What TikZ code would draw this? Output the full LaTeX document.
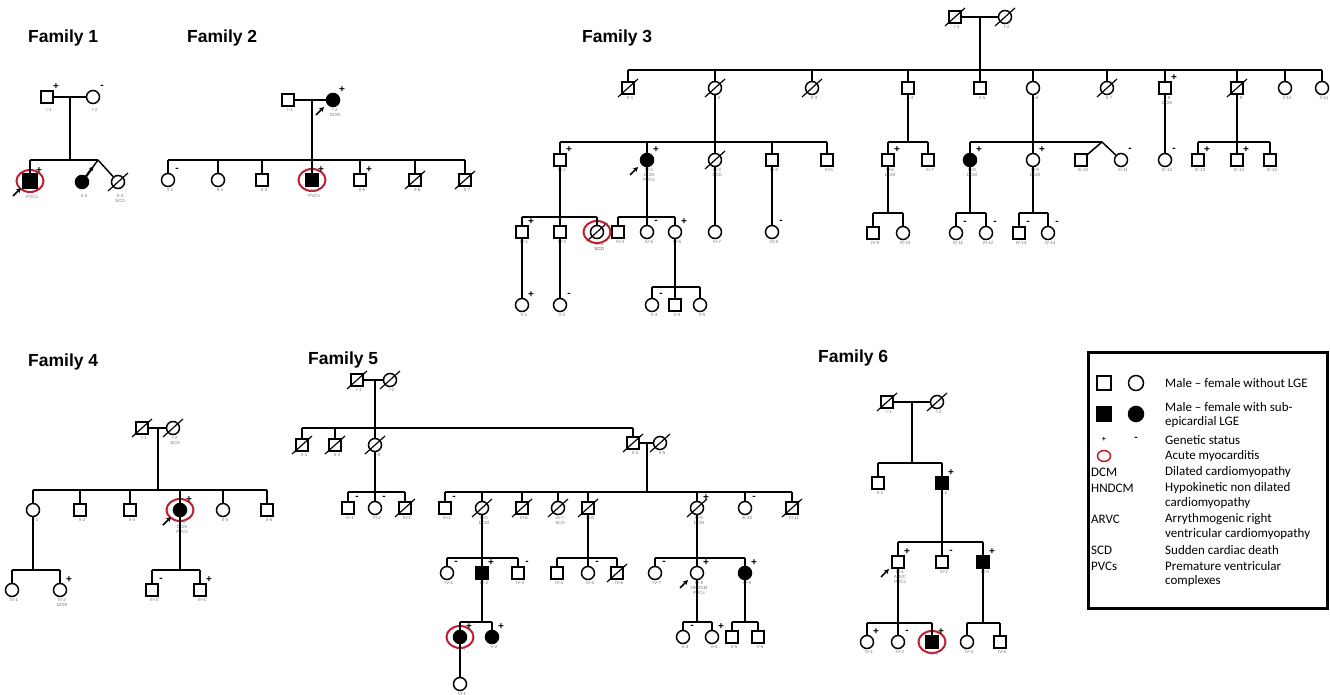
\documentclass[tikz,border=0pt]{standalone}
\usepackage{fontspec}
\setmainfont{Liberation Sans}
\newfontfamily\legendfont{Carlito}
\usetikzlibrary{shapes.geometric,arrows.meta,calc}

\definecolor{myored}{RGB}{190,30,45}
\definecolor{tagtext}{RGB}{120,120,120}

\tikzset{
  ln/.style={line width=1.5pt},
  ped/.style={draw, line width=1.5pt, inner sep=0pt, fill=white},
  msym/.style={ped, rectangle, minimum size=12pt},
  fsym/.style={ped, circle, minimum size=13pt},
  aff/.style={fill=black},
  gs/.style={font=\fontsize{10}{10}\selectfont\bfseries, inner sep=0pt},
  tag/.style={font=\fontsize{4.5}{5}\selectfont, text=tagtext, inner sep=0pt, anchor=north, align=center},
  famtitle/.style={font=\fontsize{17.5}{20}\selectfont\bfseries, inner sep=0pt, anchor=west},
  myo/.style={draw=myored, line width=2pt, ellipse, minimum width=27pt, minimum height=22pt, inner sep=0pt},
  legtext/.style={font=\legendfont\fontsize{13}{15}\selectfont, inner sep=0pt, anchor=west},
}

% genetic status marks, deceased slash, proband arrow, myocarditis ring, id tag
\newcommand\pedplus[1]{\node[gs] (#1-gs) at ([shift={(9,-10)}]#1.center) {+};}
\newcommand\pedminus[1]{\node[gs] (#1-gs) at ([shift={(9,-10)}]#1.center) {-};}
\newcommand\peddead[1]{\draw[line width=1.2pt] ([shift={(-10,9)}]#1.center) -- ([shift={(10,-9)}]#1.center);}
\newcommand\pedarrow[1]{\draw[line width=1.6pt,-{Stealth[length=5pt,width=5pt]}] ([shift={(-17,15)}]#1.center) -- ([shift={(-9,7)}]#1.center);}
\newcommand\pedmyo[1]{\node[myo] (#1-ring) at (#1.center) {};}
\newcommand\pedtag[3][8]{\node[tag] (#2-tag) at ([shift={(2,#1)}]#2.center) {#3};}
% descent from #1 to a sibship line at height #2 spanning #3..#4, with drops to #5
\newcommand\sibship[5]{%
  \draw[ln] (#1) -- (#1 |- 0,#2);
  \draw[ln] (#3 |- 0,#2) -- (#4 |- 0,#2);
  \foreach \kid in {#5} {\draw[ln] (\kid |- 0,#2) -- (\kid);}
}

\begin{document}
\begin{tikzpicture}[x=1pt,y=-1pt]
\useasboundingbox (0,0) rectangle (1330,695);

% ---------------- Family 1 ----------------
\node[famtitle] (t1) at (28,38) {Family 1};
\node[msym] (f1i1) at (47,97) {};
\node[fsym] (f1i2) at (93,97) {};
\pedplus{f1i1} \pedminus{f1i2}
\pedtag[11]{f1i1}{I-1} \pedtag[11]{f1i2}{I-2}
\node[msym,aff,minimum size=14pt] (f1c1) at (30,181) {};
\node[fsym,aff] (f1c2) at (82,182) {};
\node[fsym] (f1c3) at (118,182) {};
\peddead{f1c3}
\pedmyo{f1c1} \pedplus{f1c1} \pedarrow{f1c1}
\pedtag[14]{f1c1}{PVCs}
\pedtag[12]{f1c2}{II-2}
\pedtag[12]{f1c3}{II-3\\SCD}
\draw[ln] (f1i1) -- (f1i2);
\coordinate (f1m) at (70,97);
\coordinate (f1tw) at (98,160);
\sibship{f1m}{160}{f1c1}{f1tw}{f1c1}
\draw[ln] (f1tw) -- (f1c2);
\draw[ln] (f1tw) -- (f1c3);
\draw[line width=2.2pt,-{Stealth[length=4pt,width=5pt]}] ($(f1tw)!0.75!(f1c2)$) -- ($(f1tw)!0.3!(f1c2)$);

% ---------------- Family 2 ----------------
\node[famtitle] (t2) at (187,38) {Family 2};
\node[msym] (f2i1) at (288,100) {};
\node[fsym,aff] (f2i2) at (333,100) {};
\pedplus{f2i2} \pedarrow{f2i2}
\pedtag{f2i1}{I-1} \pedtag{f2i2}{I-2\\DCM}
\node[fsym] (f2c1) at (168,180) {};
\node[fsym] (f2c2) at (218,180) {};
\node[msym] (f2c3) at (262,180) {};
\node[msym,aff] (f2c4) at (312,180) {};
\node[msym] (f2c5) at (360,180) {};
\node[msym] (f2c6) at (415,180) {};
\node[msym] (f2c7) at (465,180) {};
\peddead{f2c6} \peddead{f2c7}
\pedmyo{f2c4}
\pedminus{f2c1} \pedplus{f2c4} \pedplus{f2c5}
\pedtag{f2c1}{II-1} \pedtag{f2c2}{II-2} \pedtag{f2c3}{II-3}
\pedtag[9]{f2c4}{II-4\\PVCs} \pedtag{f2c5}{II-5} \pedtag{f2c6}{II-6} \pedtag{f2c7}{II-7}
\draw[ln] (f2i1) -- (f2i2);
\coordinate (f2m) at (312,100);
\sibship{f2m}{160}{f2c1}{f2c7}{f2c1,f2c2,f2c3,f2c4,f2c5,f2c6,f2c7}

% ---------------- Family 3 ----------------
\node[famtitle] (t3) at (582,38) {Family 3};
\node[msym] (f3i1) at (955,17) {};
\node[fsym] (f3i2) at (1005,17) {};
\peddead{f3i1} \peddead{f3i2}
\pedtag{f3i1}{I-1} \pedtag{f3i2}{I-2}
% generation II
\node[msym] (f3a1) at (628,88) {};
\node[fsym] (f3a2) at (715,88) {};
\node[fsym] (f3a3) at (812,88) {};
\node[msym] (f3a4) at (908,88) {};
\node[msym] (f3a5) at (980,88) {};
\node[fsym] (f3a6) at (1033,88) {};
\node[fsym] (f3a7) at (1107,88) {};
\node[msym] (f3a8) at (1165,88) {};
\node[msym] (f3a9) at (1237,88) {};
\node[fsym] (f3a10) at (1285,88) {};
\node[fsym] (f3a11) at (1322,88) {};
\peddead{f3a1} \peddead{f3a2} \peddead{f3a3} \peddead{f3a7} \peddead{f3a9}
\pedplus{f3a8}
\pedtag{f3a1}{II-1} \pedtag{f3a2}{II-2} \pedtag{f3a3}{II-3} \pedtag{f3a4}{II-4}
\pedtag{f3a5}{II-5} \pedtag{f3a6}{II-6} \pedtag{f3a7}{II-7} \pedtag{f3a8}{II-8\\DCM}
\pedtag{f3a9}{II-9} \pedtag{f3a10}{II-10} \pedtag{f3a11}{II-11}
% generation III
\node[msym] (f3b1) at (560,160) {};
\node[fsym,aff] (f3b2) at (647,160) {};
\node[fsym] (f3b3) at (715,160) {};
\node[msym] (f3b4) at (772,160) {};
\node[msym] (f3b5) at (827,160) {};
\node[msym] (f3b6) at (888,160) {};
\node[msym] (f3b7) at (928,160) {};
\node[fsym,aff] (f3b8) at (970,160) {};
\node[fsym] (f3b9) at (1033,160) {};
\node[msym] (f3b10) at (1081,160) {};
\node[fsym] (f3b11) at (1121,160) {};
\node[fsym] (f3b12) at (1165,160) {};
\node[msym] (f3b13) at (1198,160) {};
\node[msym] (f3b14) at (1237,160) {};
\node[msym] (f3b15) at (1270,160) {};
\peddead{f3b3}
\pedplus{f3b1} \pedplus{f3b2} \pedarrow{f3b2} \pedplus{f3b6} \pedplus{f3b8} \pedplus{f3b9}
\pedminus{f3b11} \pedminus{f3b12} \pedplus{f3b13} \pedplus{f3b14}
\pedtag{f3b1}{III-1} \pedtag{f3b2}{III-2\\DCM\\PVCs} \pedtag{f3b3}{III-3\\SCD}
\pedtag{f3b4}{III-4} \pedtag{f3b5}{III-5} \pedtag{f3b6}{III-6\\DCM} \pedtag{f3b7}{III-7}
\pedtag{f3b8}{III-8\\DCM} \pedtag{f3b9}{III-9\\DCM} \pedtag{f3b10}{III-10} \pedtag{f3b11}{III-11}
\pedtag{f3b12}{III-12} \pedtag{f3b13}{III-13} \pedtag{f3b14}{III-14} \pedtag{f3b15}{III-15}
% generation IV
\node[msym] (f3c1) at (522,232) {};
\node[msym] (f3c2) at (560,232) {};
\node[fsym] (f3c3) at (597,232) {};
\node[msym] (f3c4) at (618,232) {};
\node[fsym] (f3c5) at (647,232) {};
\node[fsym] (f3c6) at (675,232) {};
\node[fsym] (f3c7) at (715,232) {};
\node[fsym] (f3c8) at (772,232) {};
\node[msym] (f3c9) at (873,233) {};
\node[fsym] (f3c10) at (903,233) {};
\node[fsym] (f3c11) at (956,233) {};
\node[fsym] (f3c12) at (986,233) {};
\node[msym] (f3c13) at (1019,233) {};
\node[fsym] (f3c14) at (1048,233) {};
\peddead{f3c3} \pedmyo{f3c3}
\pedplus{f3c1} \pedminus{f3c5} \pedplus{f3c6} \pedminus{f3c8}
\pedminus{f3c11} \pedminus{f3c12} \pedminus{f3c13} \pedminus{f3c14}
\pedtag{f3c1}{IV-1} \pedtag{f3c2}{IV-2} \node[tag,text=myored] (f3c3-tag) at ([shift={(2,10)}]f3c3.center) {IV-3\\SCD};
\pedtag{f3c4}{IV-4} \pedtag{f3c5}{IV-5} \pedtag{f3c6}{IV-6} \pedtag{f3c7}{IV-7}
\pedtag{f3c8}{IV-8} \pedtag{f3c9}{IV-9} \pedtag{f3c10}{IV-10} \pedtag{f3c11}{IV-11}
\pedtag{f3c12}{IV-12} \pedtag{f3c13}{IV-13} \pedtag{f3c14}{IV-14}
% generation V
\node[fsym] (f3d1) at (522,305) {};
\node[fsym] (f3d2) at (560,305) {};
\node[fsym] (f3d3) at (652,305) {};
\node[msym] (f3d4) at (675,305) {};
\node[fsym] (f3d5) at (700,305) {};
\pedplus{f3d1} \pedminus{f3d2} \pedminus{f3d3}
\pedtag{f3d1}{V-1} \pedtag{f3d2}{V-2} \pedtag{f3d3}{V-3} \pedtag{f3d4}{V-4} \pedtag{f3d5}{V-5}
% lines
\draw[ln] (f3i1) -- (f3i2);
\coordinate (f3m) at (980,17);
\sibship{f3m}{70}{f3a1}{f3a11}{f3a1,f3a2,f3a3,f3a4,f3a5,f3a6,f3a7,f3a8,f3a9,f3a10,f3a11}
\sibship{f3a2}{142}{f3b1}{f3b5}{f3b1,f3b2,f3b3,f3b4,f3b5}
\sibship{f3a4}{142}{f3b6}{f3b7}{f3b6,f3b7}
\coordinate (f3tw) at (1102,142);
\sibship{f3a6}{142}{f3b8}{f3tw}{f3b8,f3b9}
\draw[ln] (f3tw) -- (f3b10);
\draw[ln] (f3tw) -- (f3b11);
\draw[ln] (f3a8) -- (f3b12);
\sibship{f3a9}{142}{f3b13}{f3b15}{f3b13,f3b14,f3b15}
\sibship{f3b1}{217}{f3c1}{f3c3}{f3c1,f3c2,f3c3}
\sibship{f3b2}{217}{f3c4}{f3c6}{f3c4,f3c5,f3c6}
\draw[ln] (f3b3) -- (f3c7);
\draw[ln] (f3b4) -- (f3c8);
\sibship{f3b6}{213}{f3c9}{f3c10}{f3c9,f3c10}
\sibship{f3b8}{213}{f3c11}{f3c12}{f3c11,f3c12}
\sibship{f3b9}{213}{f3c13}{f3c14}{f3c13,f3c14}
\draw[ln] (f3c1) -- (f3d1);
\draw[ln] (f3c2) -- (f3d2);
\sibship{f3c6}{287}{f3d3}{f3d5}{f3d3,f3d4,f3d5}

% ---------------- Family 4 ----------------
\node[famtitle] (t4) at (28,362) {Family 4};
\node[msym] (f4i1) at (142,428) {};
\node[fsym] (f4i2) at (173,428) {};
\peddead{f4i1} \peddead{f4i2}
\pedtag{f4i1}{I-1} \pedtag{f4i2}{I-2\\SCD}
\node[fsym] (f4a1) at (33,510) {};
\node[msym] (f4a2) at (80,510) {};
\node[msym] (f4a3) at (130,510) {};
\node[fsym,aff] (f4a4) at (180,510) {};
\node[fsym] (f4a5) at (223,510) {};
\node[msym] (f4a6) at (267,510) {};
\pedmyo{f4a4} \pedplus{f4a4} \pedarrow{f4a4}
\pedtag{f4a1}{II-1} \pedtag{f4a2}{II-2} \pedtag{f4a3}{II-3}
\pedtag[10]{f4a4}{II-4\\DCM\\PVCs} \pedtag{f4a5}{II-5} \pedtag{f4a6}{II-6}
\node[fsym] (f4b1) at (12,590) {};
\node[fsym] (f4b2) at (60,590) {};
\node[msym] (f4b3) at (152,590) {};
\node[msym] (f4b4) at (200,590) {};
\pedplus{f4b2} \pedminus{f4b3} \pedplus{f4b4}
\pedtag{f4b1}{III-1} \pedtag{f4b2}{III-2\\DCM} \pedtag{f4b3}{III-3} \pedtag{f4b4}{III-4}
\draw[ln] (f4i1) -- (f4i2);
\coordinate (f4m) at (158,428);
\sibship{f4m}{490}{f4a1}{f4a6}{f4a1,f4a2,f4a3,f4a4,f4a5,f4a6}
\sibship{f4a1}{570}{f4b1}{f4b2}{f4b1,f4b2}
\sibship{f4a4}{570}{f4b3}{f4b4}{f4b3,f4b4}

% ---------------- Family 5 ----------------
\node[famtitle] (t5) at (308,360) {Family 5};
\node[msym] (f5i1) at (357,380) {};
\node[fsym] (f5i2) at (390,380) {};
\peddead{f5i1} \peddead{f5i2}
\pedtag{f5i1}{I-1} \pedtag{f5i2}{I-2}
% generation II
\node[msym] (f5a1) at (302,445) {};
\node[msym] (f5a2) at (335,445) {};
\node[fsym] (f5a3) at (375,445) {};
\node[msym] (f5a4) at (633,443) {};
\node[fsym] (f5a5) at (660,443) {};
\peddead{f5a1} \peddead{f5a2} \peddead{f5a3} \peddead{f5a4} \peddead{f5a5}
\pedtag{f5a1}{II-1} \pedtag{f5a2}{II-2} \pedtag{f5a3}{II-3} \pedtag{f5a4}{II-4} \pedtag{f5a5}{II-5}
% generation III
\node[msym] (f5b1) at (348,508) {};
\node[fsym] (f5b2) at (375,508) {};
\node[msym] (f5b3) at (405,508) {};
\node[msym] (f5b4) at (445,508) {};
\node[fsym] (f5b5) at (482,508) {};
\node[msym] (f5b6) at (522,508) {};
\node[fsym] (f5b7) at (558,508) {};
\node[msym] (f5b8) at (588,508) {};
\node[fsym] (f5b9) at (697,508) {};
\node[fsym] (f5b10) at (745,508) {};
\node[msym] (f5b11) at (792,508) {};
\peddead{f5b3} \peddead{f5b5} \peddead{f5b6} \peddead{f5b7} \peddead{f5b8} \peddead{f5b9} \peddead{f5b11}
\pedminus{f5b1} \pedminus{f5b2} \pedminus{f5b4} \pedplus{f5b9} \pedminus{f5b10}
\pedtag{f5b1}{III-1} \pedtag{f5b2}{III-2} \pedtag{f5b3}{III-3} \pedtag{f5b4}{III-4}
\pedtag{f5b5}{III-5\\DCM} \pedtag{f5b6}{III-6} \pedtag{f5b7}{III-7\\SCD} \pedtag{f5b8}{III-8}
\pedtag{f5b9}{III-9\\DCM} \pedtag{f5b10}{III-10} \pedtag{f5b11}{III-11}
% generation IV
\node[fsym] (f5c1) at (447,573) {};
\node[msym,aff] (f5c2) at (482,573) {};
\node[msym] (f5c3) at (518,573) {};
\node[msym] (f5c4) at (557,573) {};
\node[fsym] (f5c5) at (588,573) {};
\node[msym] (f5c6) at (617,573) {};
\node[fsym] (f5c7) at (655,573) {};
\node[fsym] (f5c8) at (697,573) {};
\node[fsym,aff] (f5c9) at (745,573) {};
\peddead{f5c6}
\pedminus{f5c1} \pedplus{f5c2} \pedminus{f5c3} \pedminus{f5c5} \pedminus{f5c7}
\pedplus{f5c8} \pedarrow{f5c8} \pedplus{f5c9}
\pedtag{f5c1}{IV-1} \pedtag{f5c2}{IV-2} \pedtag{f5c3}{IV-3} \pedtag{f5c4}{IV-4}
\pedtag{f5c5}{IV-5} \pedtag{f5c6}{IV-6} \pedtag{f5c7}{IV-7}
\pedtag{f5c8}{IV-8\\HNDCM\\PVCs} \pedtag{f5c9}{IV-9}
% generation V and VI
\node[fsym,aff] (f5d1) at (460,637) {};
\node[fsym,aff] (f5d2) at (492,637) {};
\node[fsym] (f5d3) at (683,637) {};
\node[fsym] (f5d4) at (712,637) {};
\node[msym] (f5d5) at (732,637) {};
\node[msym] (f5d6) at (758,637) {};
\node[fsym] (f5e1) at (460,684) {};
\pedmyo{f5d1}
\pedplus{f5d1} \pedplus{f5d2} \pedminus{f5d3} \pedplus{f5d4}
\pedtag[10]{f5d1}{V-1} \pedtag{f5d2}{V-2} \pedtag{f5d3}{V-3} \pedtag{f5d4}{V-4}
\pedtag{f5d5}{V-5} \pedtag{f5d6}{V-6} \pedtag{f5e1}{VI-1}
% lines
\draw[ln] (f5i1) -- (f5i2);
\coordinate (f5m1) at (375,380);
\sibship{f5m1}{428}{f5a1}{f5a4}{f5a1,f5a2,f5a3,f5a4}
\draw[ln] (f5a4) -- (f5a5);
\coordinate (f5m2) at (647,443);
\sibship{f5a3}{492}{f5b1}{f5b3}{f5b1,f5b2,f5b3}
\sibship{f5m2}{492}{f5b4}{f5b11}{f5b4,f5b5,f5b6,f5b7,f5b8,f5b9,f5b10,f5b11}
\sibship{f5b5}{558}{f5c1}{f5c3}{f5c1,f5c2,f5c3}
\sibship{f5b8}{558}{f5c4}{f5c6}{f5c4,f5c5,f5c6}
\sibship{f5b9}{558}{f5c7}{f5c9}{f5c7,f5c8,f5c9}
\sibship{f5c2}{622}{f5d1}{f5d2}{f5d1,f5d2}
\sibship{f5c8}{622}{f5d3}{f5d4}{f5d3,f5d4}
\sibship{f5c9}{622}{f5d5}{f5d6}{f5d5,f5d6}
\draw[ln] (f5d1) -- (f5e1);

% ---------------- Family 6 ----------------
\node[famtitle] (t6) at (818,358) {Family 6};
\node[msym] (f6i1) at (887,402) {};
\node[fsym] (f6i2) at (937,402) {};
\peddead{f6i1} \peddead{f6i2}
\pedtag{f6i1}{I-1} \pedtag{f6i2}{I-2}
\node[msym] (f6a1) at (878,483) {};
\node[msym,aff] (f6a2) at (942,483) {};
\pedplus{f6a2}
\pedtag{f6a1}{II-1} \pedtag{f6a2}{II-2}
\node[msym] (f6b1) at (898,562) {};
\node[msym] (f6b2) at (942,562) {};
\node[msym,aff] (f6b3) at (983,562) {};
\pedplus{f6b1} \pedarrow{f6b1} \pedminus{f6b2} \pedplus{f6b3}
\pedtag{f6b1}{III-1\\ARVC\\PVCs} \pedtag{f6b2}{III-2} \pedtag{f6b3}{III-3}
\node[fsym] (f6c1) at (867,642) {};
\node[fsym] (f6c2) at (898,642) {};
\node[msym,aff] (f6c3) at (932,642) {};
\node[fsym] (f6c4) at (967,642) {};
\node[msym] (f6c5) at (1000,642) {};
\pedmyo{f6c3}
\pedplus{f6c1} \pedminus{f6c2} \pedplus{f6c3}
\pedtag{f6c1}{IV-1} \pedtag{f6c2}{IV-2} \pedtag[10]{f6c3}{IV-3} \pedtag{f6c4}{IV-4} \pedtag{f6c5}{IV-5}
\draw[ln] (f6i1) -- (f6i2);
\coordinate (f6m) at (912,402);
\sibship{f6m}{463}{f6a1}{f6a2}{f6a1,f6a2}
\sibship{f6a2}{542}{f6b1}{f6b3}{f6b1,f6b2,f6b3}
\sibship{f6b1}{623}{f6c1}{f6c3}{f6c1,f6c2,f6c3}
\sibship{f6b3}{623}{f6c4}{f6c5}{f6c4,f6c5}

% ---------------- Legend ----------------
\draw[line width=3pt] (1088,352) rectangle (1327,608);
\node[ped, rectangle, minimum size=14pt] (lg1) at (1104,383) {};
\node[ped, circle, minimum size=15pt] (lg2) at (1136,383) {};
\node[ped, rectangle, minimum size=14pt, fill=black] (lg3) at (1104,414) {};
\node[ped, circle, minimum size=15pt, fill=black] (lg4) at (1136,414) {};
\node[gs, font=\fontsize{7}{7}\selectfont\bfseries] (lg5) at (1104,439) {+};
\node[gs] (lg6) at (1136,439) {-};
\node[draw=myored, line width=1.5pt, ellipse, minimum width=13pt, minimum height=11pt, inner sep=0pt] (lg7) at (1104,456) {};
\node[legtext] (lgt1) at (1165,383) {Male – female without LGE};
\node[legtext] (lgt2) at (1165,407) {Male – female with sub-};
\node[legtext] (lgt3) at (1165,422) {epicardial LGE};
\node[legtext] (lgt4) at (1165,440) {Genetic status};
\node[legtext] (lgt5) at (1165,456) {Acute myocarditis};
\node[legtext] (lga1) at (1091,472) {DCM};
\node[legtext] (lgt6) at (1165,472) {Dilated cardiomyopathy};
\node[legtext] (lga2) at (1091,488) {HNDCM};
\node[legtext] (lgt7) at (1165,488) {Hypokinetic non dilated};
\node[legtext] (lgt8) at (1165,503) {cardiomyopathy};
\node[legtext] (lga3) at (1091,519) {ARVC};
\node[legtext] (lgt9) at (1165,519) {Arrythmogenic right};
\node[legtext] (lgt10) at (1165,534) {ventricular cardiomyopathy};
\node[legtext] (lga4) at (1091,550) {SCD};
\node[legtext] (lgt11) at (1165,550) {Sudden cardiac death};
\node[legtext] (lga5) at (1091,566) {PVCs};
\node[legtext] (lgt12) at (1165,566) {Premature ventricular};
\node[legtext] (lgt13) at (1165,581) {complexes};
\end{tikzpicture}
\end{document}
